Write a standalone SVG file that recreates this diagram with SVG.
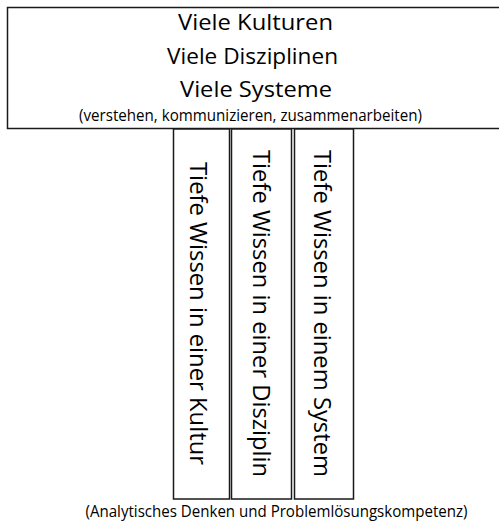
<svg xmlns="http://www.w3.org/2000/svg" width="499" height="528" viewBox="0 0 499 528">
<style>
.box{fill:#fff;stroke:#1a1a1a;stroke-width:1.5}
.t{font-family:"Open Sans","Noto Sans",sans-serif;fill:#000}
.h{font-size:22px}
.s{font-size:16px}
.v{font-size:23.5px}
</style>
<rect width="499" height="528" fill="#fff"/>
<g id="top">
<rect class="box" x="7.5" y="7.5" width="500" height="121"/>
<text class="t h" x="255.5" y="30" text-anchor="middle" textLength="155" lengthAdjust="spacingAndGlyphs">Viele Kulturen</text>
<text class="t h" x="252.5" y="64" text-anchor="middle" textLength="171" lengthAdjust="spacingAndGlyphs">Viele Disziplinen</text>
<text class="t h" x="256" y="97" text-anchor="middle" textLength="152" lengthAdjust="spacingAndGlyphs">Viele Systeme</text>
<text class="t s" x="250.5" y="121" text-anchor="middle" textLength="343" lengthAdjust="spacingAndGlyphs">(verstehen, kommunizieren, zusammenarbeiten)</text>
</g>
<g id="col1">
<rect class="box" x="173.5" y="129" width="56" height="370"/>
<text class="t v" transform="translate(190,162) rotate(90)" textLength="303" lengthAdjust="spacingAndGlyphs">Tiefe Wissen in einer Kultur</text>
</g>
<g id="col2">
<rect class="box" x="231.5" y="129" width="60" height="370"/>
<text class="t v" transform="translate(252.5,150) rotate(90)" textLength="327" lengthAdjust="spacingAndGlyphs">Tiefe Wissen in einer Disziplin</text>
</g>
<g id="col3">
<rect class="box" x="294.5" y="129" width="59" height="370"/>
<text class="t v" transform="translate(314,150) rotate(90)" textLength="327" lengthAdjust="spacingAndGlyphs">Tiefe Wissen in einem System</text>
</g>
<g id="bottom">
<text class="t s" x="276.5" y="517" text-anchor="middle" textLength="382" lengthAdjust="spacingAndGlyphs">(Analytisches Denken und Problemlösungskompetenz)</text>
</g>
<g id="connectors"/>
</svg>
